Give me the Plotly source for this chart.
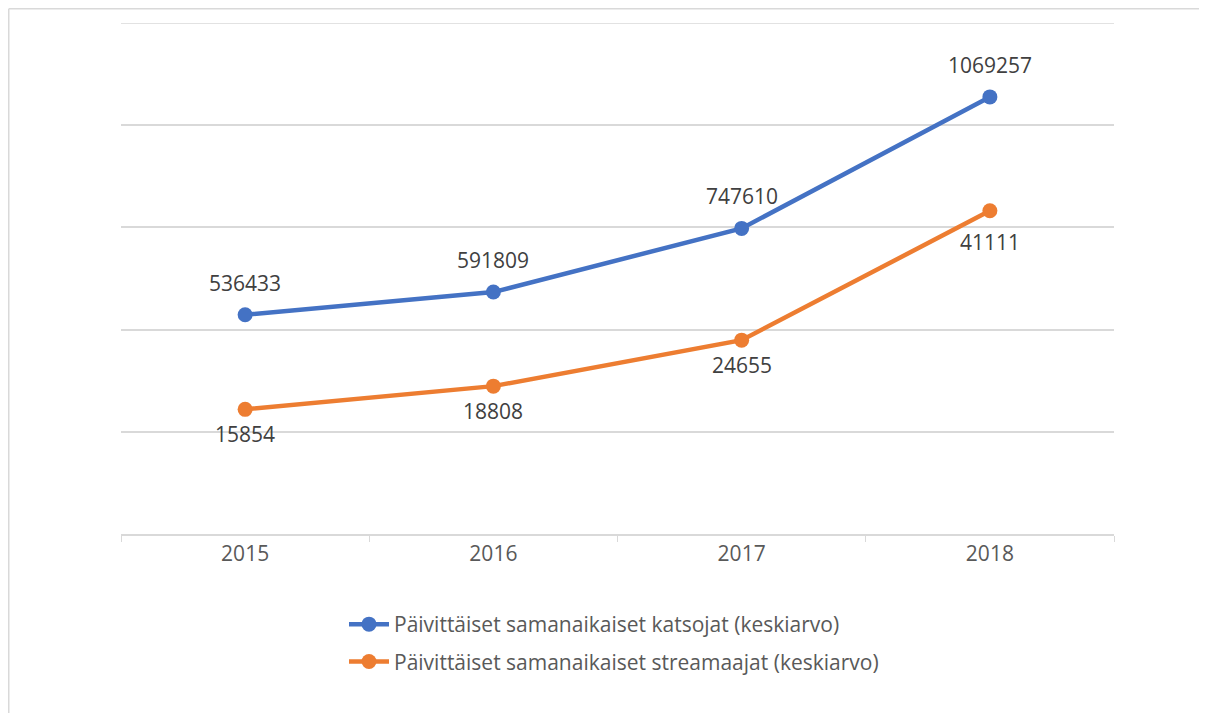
import plotly.graph_objects as go

years = ["2015", "2016", "2017", "2018"]
viewers = [536433, 591809, 747610, 1069257]
streamers = [15854, 18808, 24655, 41111]
name_viewers = "Päivittäiset samanaikaiset katsojat (keskiarvo)"
name_streamers = "Päivittäiset samanaikaiset streamaajat (keskiarvo)"

FONT = "Open Sans, sans-serif"
W, H = 1207, 713
OFF = 8  # page body offset
L, R, T, B = 121 - OFF, 93 + OFF, 23 - OFF, 179 + OFF

fig = go.Figure()
fig.add_trace(go.Scatter(
    x=years, y=viewers, name=name_viewers, mode="lines+markers", legendgroup="a",
    line=dict(color="#4472C4", width=4.5), marker=dict(size=15, color="#4472C4"),
))
fig.add_trace(go.Scatter(
    x=years, y=streamers, name=name_streamers, mode="lines+markers", yaxis="y2", legendgroup="b",
    line=dict(color="#ED7D31", width=4.5), marker=dict(size=15, color="#ED7D31"),
))

# data labels (category axis: position by category index)
label_font = dict(size=21, color="#404040", family=FONT)
for i, v in enumerate(viewers):
    fig.add_annotation(x=i, y=v, xref="x", yref="y", text=str(v), showarrow=False,
                       yshift=32, font=label_font)
below_shift = [25, 25, 25, 31]
for i, (v, s) in enumerate(zip(streamers, below_shift)):
    fig.add_annotation(x=i, y=v, xref="x", yref="y2", text=str(v), showarrow=False,
                       yshift=-s, font=label_font)

pw = W - L - R
ph = H - T - B
fig.update_layout(
    width=W, height=H, margin=dict(l=L, r=R, t=T, b=B),
    paper_bgcolor="white", plot_bgcolor="white",
    font=dict(family=FONT, size=21, color="#595959"),
    xaxis=dict(type="category", showgrid=False, showline=True, linecolor="#D9D9D9", linewidth=1.5,
               ticks="outside", ticklen=6, tickcolor="#D9D9D9", tickson="boundaries",
               tickfont=dict(size=21, color="#595959"), range=[-0.5, 3.5]),
    yaxis=dict(range=[0, 1250000], tickvals=[250000, 500000, 750000, 1000000],
               showgrid=True, gridcolor="#D9D9D9", gridwidth=1.5,
               showticklabels=False, zeroline=False, showline=False),
    yaxis2=dict(range=[0, 65000], overlaying="y", side="right", showgrid=False,
                showticklabels=False, zeroline=False, showline=False),
    showlegend=True,
    legend=dict(orientation="v", x=(344 - 121) / pw, xanchor="left", y=(534 - 604) / ph, yanchor="top",
                font=dict(size=21, color="#595959"), itemwidth=40, tracegroupgap=7,
                traceorder="grouped"),
)
# top gridline (at the upper edge of the value range)
fig.add_shape(type="line", xref="paper", yref="y", x0=0, x1=1, y0=1250000, y1=1250000,
              line=dict(color="#D9D9D9", width=1.5), layer="below")
# chart-area border (left and top edges)
fig.add_shape(type="line", xref="paper", yref="paper",
              x0=(0.75 - L) / pw, x1=(0.75 - L) / pw, y0=(H - B - 0.75) / ph, y1=-(B + 20) / ph,
              line=dict(color="#D9D9D9", width=1.5))
fig.add_shape(type="line", xref="paper", yref="paper",
              x0=(0.75 - L) / pw, x1=(W + 20 - L) / pw, y0=(H - B - 0.75) / ph, y1=(H - B - 0.75) / ph,
              line=dict(color="#D9D9D9", width=1.5))
fig.write_html("out.html")
